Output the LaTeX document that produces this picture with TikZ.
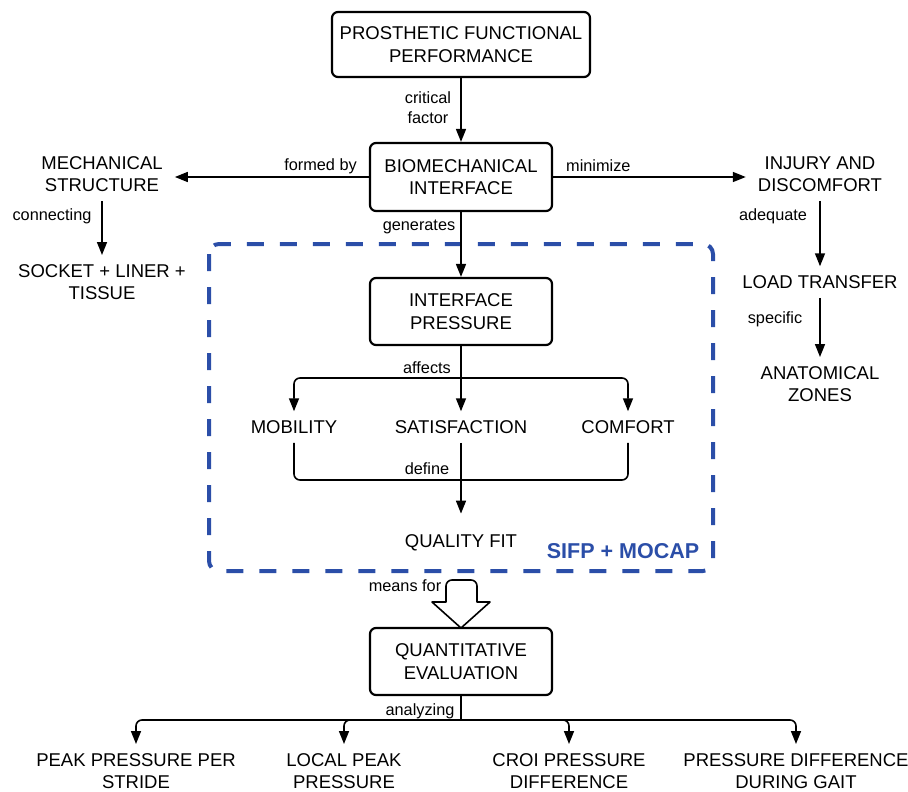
\documentclass[tikz,border=0pt]{standalone}
\usepackage{fontspec}
\setmainfont{Liberation Sans}
\usetikzlibrary{arrows.meta,calc}
\definecolor{dblue}{HTML}{2B4EA8}
\begin{document}
\begin{tikzpicture}[x=1pt,y=-1pt,
  box/.style={draw,line width=2.2pt,rounded corners=6pt,align=center,
    font=\fontsize{18.5}{22.5}\selectfont,inner sep=0pt,minimum width=182pt,minimum height=67pt},
  txt/.style={align=center,font=\fontsize{18.5}{22.5}\selectfont,inner xsep=12pt,inner ysep=9pt},
  lab/.style={align=center,font=\fontsize{16.3}{20}\selectfont,inner sep=0pt},
  arr/.style={line width=1.6pt,-{Triangle[length=13pt,width=10pt]}},
  ln/.style={line width=1.6pt}]
\useasboundingbox (0,0) rectangle (908,792);

% boxes
\node[box,minimum width=258pt,minimum height=65pt] (top) at (461,44.5) {PROSTHETIC FUNCTIONAL\\PERFORMANCE};
\node[box,minimum height=68pt] (bio) at (461,177) {BIOMECHANICAL\\INTERFACE};
\node[box] (ip) at (461,311.5) {INTERFACE\\PRESSURE};
\node[box] (qe) at (461,661.5) {QUANTITATIVE\\EVALUATION};

% side texts
\node[txt] (mech) at (102,174) {MECHANICAL\\STRUCTURE};
\node[txt] (sock) at (102,282) {SOCKET + LINER +\\TISSUE};
\node[txt] (inj) at (820,174) {INJURY AND\\DISCOMFORT};
\node[txt] (load) at (820,282) {LOAD TRANSFER};
\node[txt] (anat) at (820,384) {ANATOMICAL\\ZONES};

% inner texts
\node[txt] (mob) at (294,427) {MOBILITY};
\node[txt] (sat) at (461,427) {SATISFACTION};
\node[txt] (com) at (628,427) {COMFORT};
\node[txt,inner ysep=21pt] (qf) at (461,543) {QUALITY FIT};

% bottom texts
\node[txt] (b1) at (136,771) {PEAK PRESSURE PER\\STRIDE};
\node[txt] (b2) at (344,771) {LOCAL PEAK\\PRESSURE};
\node[txt] (b3) at (569,771) {CROI PRESSURE\\DIFFERENCE};
\node[txt] (b4) at (796,771) {PRESSURE DIFFERENCE\\DURING GAIT};

% dashed region
\draw[dblue,line width=4pt,dash pattern=on 17pt off 16pt,rounded corners=10pt]
  (209,244) rectangle (713,571);
\node[font=\fontsize{21.5}{24}\selectfont\bfseries,text=dblue,inner sep=0pt] (sifp) at (623,551) {SIFP + MOCAP};

% connectors
\draw[arr] (top.south) -- (bio.north);
\node[lab] (l1) at (428,108) {critical\\factor};

\draw[arr] (bio.west) -- (bio.west -| mech.east);
\node[lab,anchor=east] (l2) at (357,166) {formed by};
\draw[arr] (bio.east) -- (bio.east -| inj.west);
\node[lab,anchor=west] (l3) at (566,166) {minimize};

\draw[arr] (mech.south) -- (sock.north);
\node[lab] (l4) at (52,216) {connecting};
\draw[arr] (inj.south) -- (load.north);
\node[lab] (l5) at (773,216) {adequate};
\draw[arr] (load.south) -- (anat.north);
\node[lab] (l6) at (775,319) {specific};

\draw[arr] (bio.south) -- (ip.north);
\node[lab] (l7) at (419,227) {generates};

\coordinate (j1) at (461,378);
\draw[ln] (ip.south) -- (j1);
\draw[arr,rounded corners=6pt] (j1) -| (mob.north);
\draw[arr,rounded corners=6pt] (j1) -| (com.north);
\draw[arr] (j1) -- (sat.north);
\node[lab] (l8) at (427,368) {affects};

\coordinate (j2) at (461,480);
\draw[ln,rounded corners=6pt] (mob.south) |- (j2) -| (com.south);
\draw[arr] (sat.south) -- (qf.north);
\node[lab] (l9) at (427,469) {define};

% hollow arrow
\draw[line width=1.6pt,fill=white,line join=round]
  (446,602) -- (432,602) -- (461,628) -- (490,602) -- (477,602)
  [rounded corners=6pt] -- (477,580) -- (446,580) [sharp corners] -- cycle;
\node[lab] (l10) at (405,586) {means for};

\coordinate (j3) at (461,720);
\draw[ln] (qe.south) -- (j3);
\draw[arr,rounded corners=6pt] (j3) -| (b1.north);
\draw[arr,rounded corners=6pt] (j3) -| (b2.north);
\draw[arr,rounded corners=6pt] (j3) -| (b3.north);
\draw[arr,rounded corners=6pt] (j3) -| (b4.north);
\node[lab] (l11) at (420,711) {analyzing};
\end{tikzpicture}
\end{document}
